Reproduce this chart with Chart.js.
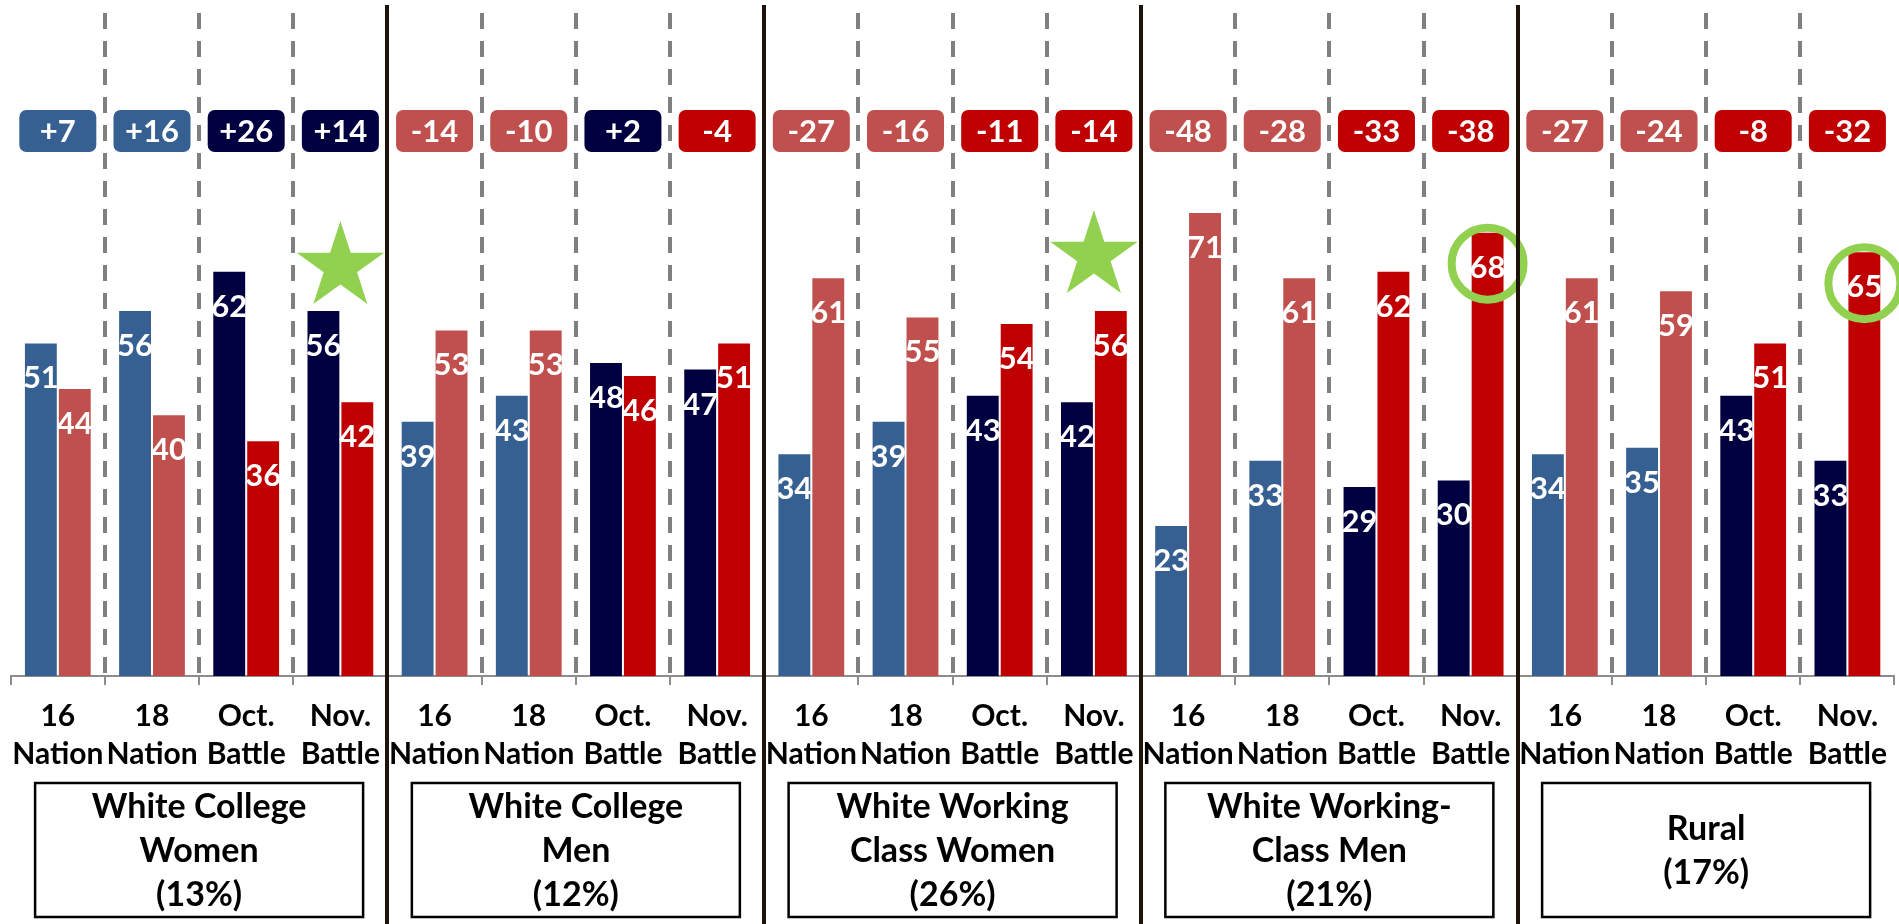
<!DOCTYPE html>
<html>
<head>
<meta charset="utf-8">
<script src="https://cdn.jsdelivr.net/npm/chart.js@4.4.1/dist/chart.umd.min.js"></script>
<style>
  html, body { margin: 0; padding: 0; background: #fff; }
  #wrap { width: 1899px; height: 924px; position: relative; }
</style>
</head>
<body>
<div id="wrap"><canvas id="votesChart"></canvas></div>
<script>
// the four polls shown in every group
const periods = [["16", "Nation"], ["18", "Nation"], ["Oct.", "Battle"], ["Nov.", "Battle"]];
const groups = [
  ["White College", "Women", "(13%)"],
  ["White College", "Men", "(12%)"],
  ["White Working", "Class Women", "(26%)"],
  ["White Working-", "Class Men", "(21%)"],
  ["Rural", "(17%)"]
];
const demVotes = [51, 56, 62, 56, 39, 43, 48, 47, 34, 39, 43, 42, 23, 33, 29, 30, 34, 35, 43, 33];
const repVotes = [44, 40, 36, 42, 53, 53, 46, 51, 61, 55, 54, 56, 71, 61, 62, 68, 61, 59, 51, 65];
const margins = ["+7", "+16", "+26", "+14", "-14", "-10", "+2", "-4", "-27", "-16", "-11", "-14",
                 "-48", "-28", "-33", "-38", "-27", "-24", "-8", "-32"];
const starred = [3, 11];   // categories marked with a star
const circled = [15, 19];  // rep bars whose label is ringed

const LIGHT_BLUE = '#376092';
const NAVY = '#000040';
const LIGHT_RED = '#C0504D';
const RED = '#C00000';
const GREEN = '#92D050';
const FONT = 'Lato, "Open Sans", sans-serif';

const labels = [];
groups.forEach(() => periods.forEach(p => labels.push(p)));

const isOld = i => i % 4 < 2;
const demColors = labels.map((_, i) => isOld(i) ? LIGHT_BLUE : NAVY);
const repColors = labels.map((_, i) => isOld(i) ? LIGHT_RED : RED);

// left edge of category i
function edgeX(x, i) {
  if (i <= 0) return x.left;
  if (i >= labels.length) return x.right;
  return (x.getPixelForValue(i - 1) + x.getPixelForValue(i)) / 2;
}

function drawStar(ctx, cx, cy, R) {
  const r = R * 0.382;
  ctx.beginPath();
  for (let k = 0; k < 10; k++) {
    const rad = k % 2 === 0 ? R : r;
    const a = -Math.PI / 2 + k * Math.PI / 5;
    const px = cx + rad * Math.cos(a), py = cy + rad * Math.sin(a);
    if (k === 0) ctx.moveTo(px, py); else ctx.lineTo(px, py);
  }
  ctx.closePath();
  ctx.fill();
}

const decorations = {
  id: 'decorations',
  beforeDatasetsDraw(chart) {
    const { ctx, scales: { x }, chartArea } = chart;
    ctx.save();
    ctx.strokeStyle = '#808080';
    ctx.lineWidth = 4;
    ctx.setLineDash([16, 12]);
    for (let i = 1; i < labels.length; i++) {
      if (i % 4 === 0) continue;
      const bx = Math.round(edgeX(x, i));
      ctx.beginPath();
      ctx.moveTo(bx, 13);
      ctx.lineTo(bx, chartArea.bottom);
      ctx.stroke();
    }
    ctx.restore();
  },
  afterDatasetsDraw(chart) {
    const { ctx, scales: { x } } = chart;
    const dem = chart.getDatasetMeta(0).data;
    const rep = chart.getDatasetMeta(1).data;
    ctx.save();

    // values inside the bars
    ctx.fillStyle = '#fff';
    ctx.font = 'bold 31px ' + FONT;
    ctx.textAlign = 'center';
    ctx.textBaseline = 'middle';
    dem.forEach((el, i) => ctx.fillText(demVotes[i], el.x, el.y + 35));
    rep.forEach((el, i) => ctx.fillText(repVotes[i], el.x, el.y + 35));

    // margin boxes along the top
    margins.forEach((m, i) => {
      const cx = x.getPixelForValue(i);
      const dWin = m.startsWith('+');
      ctx.fillStyle = dWin ? (isOld(i) ? LIGHT_BLUE : NAVY) : (isOld(i) ? LIGHT_RED : RED);
      ctx.beginPath();
      ctx.roundRect(cx - 38.5, 110, 77, 42, 7);
      ctx.fill();
      ctx.fillStyle = '#fff';
      ctx.fillText(m, cx, 132);
    });

    // stars above the tallest bar of the category
    ctx.fillStyle = GREEN;
    starred.forEach((i, k) => {
      const off = k === 0 ? 44 : 55;
      const top = Math.min(dem[i].y, rep[i].y);
      drawStar(ctx, x.getPixelForValue(i), top - off, 46);
    });

    // rings around rep labels
    ctx.strokeStyle = GREEN;
    ctx.lineWidth = 8;
    circled.forEach(i => {
      ctx.beginPath();
      ctx.arc(rep[i].x, rep[i].y + 31, 36, 0, Math.PI * 2);
      ctx.stroke();
    });
    ctx.restore();
  },
  afterDraw(chart) {
    const { ctx, scales: { x } } = chart;
    ctx.save();

    // solid group separators
    ctx.strokeStyle = '#1e120a';
    ctx.lineWidth = 4;
    for (let g = 1; g < groups.length; g++) {
      const bx = Math.round(edgeX(x, g * 4));
      ctx.beginPath();
      ctx.moveTo(bx, 5);
      ctx.lineTo(bx, 924);
      ctx.stroke();
    }

    // group name boxes
    ctx.font = 'bold 34px ' + FONT;
    ctx.textAlign = 'center';
    ctx.textBaseline = 'middle';
    groups.forEach((lines, g) => {
      const cx = (edgeX(x, g * 4) + edgeX(x, g * 4 + 4)) / 2;
      ctx.strokeStyle = '#000';
      ctx.lineWidth = 2.5;
      ctx.strokeRect(cx - 164, 783, 328, 134);
      ctx.fillStyle = '#000';
      const mid = 851, lh = 44;
      lines.forEach((t, k) => {
        ctx.fillText(t, cx, mid + (k - (lines.length - 1) / 2) * lh);
      });
    });
    ctx.restore();
  }
};

new Chart(document.getElementById('votesChart'), {
  type: 'bar',
  data: {
    labels: labels,
    datasets: [
      { label: 'Dem', data: demVotes, backgroundColor: demColors },
      { label: 'Rep', data: repVotes, backgroundColor: repColors }
    ]
  },
  options: {
    responsive: true,
    maintainAspectRatio: false,
    animation: false,
    categoryPercentage: 0.72,
    barPercentage: 0.94,
    layout: { padding: { top: 24, left: 9, right: 4, bottom: 0 } },
    plugins: { legend: { display: false }, tooltip: { enabled: false } },
    scales: {
      x: {
        afterFit: s => { s.height = 248; },
        grid: { drawOnChartArea: false, drawTicks: true, tickLength: 9, color: '#8c8c8c', lineWidth: 2 },
        border: { display: true, color: '#8c8c8c', width: 2 },
        ticks: {
          autoSkip: false,
          maxRotation: 0,
          color: '#000',
          padding: 12,
          font: { family: FONT, size: 30, weight: 'bold', lineHeight: 1.27 }
        }
      },
      y: { display: false, min: 0, max: 100 }
    }
  },
  plugins: [decorations]
});
</script>
</body>
</html>
